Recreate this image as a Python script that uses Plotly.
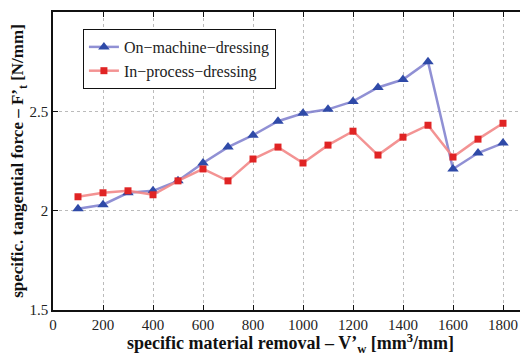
import plotly.graph_objects as go

x_vals = [100, 200, 300, 400, 500, 600, 700, 800, 900, 1000, 1100, 1200, 1300, 1400, 1500, 1600, 1700, 1800]
on_machine = [2.01, 2.03, 2.09, 2.10, 2.15, 2.24, 2.32, 2.38, 2.45, 2.49, 2.51, 2.55, 2.62, 2.66, 2.75, 2.21, 2.29, 2.34]
in_process = [2.07, 2.09, 2.10, 2.08, 2.15, 2.21, 2.15, 2.26, 2.32, 2.24, 2.33, 2.40, 2.28, 2.37, 2.43, 2.27, 2.36, 2.44]
x_ticks = [0, 200, 400, 600, 800, 1000, 1200, 1400, 1600, 1800]
y_ticks = [1.5, 2, 2.5, 3]

serif = "Liberation Serif"

fig = go.Figure()
fig.add_trace(go.Scatter(
    x=x_vals, y=on_machine, mode="lines+markers", name="On\u2212machine\u2212dressing",
    line=dict(color="rgba(125,125,205,0.85)", width=2.5),
    marker=dict(symbol="triangle-up", size=10, color="#2f4aa8"),
))
fig.add_trace(go.Scatter(
    x=x_vals, y=in_process, mode="lines+markers", name="In\u2212process\u2212dressing",
    line=dict(color="rgba(242,135,135,0.9)", width=2.5),
    marker=dict(symbol="square", size=7, color="#e02424"),
))

fig.update_layout(
    width=520, height=348,
    margin=dict(l=45, r=0, t=4, b=46),
    paper_bgcolor="white", plot_bgcolor="white",
    font=dict(family=serif, size=14, color="#222"),
    showlegend=True,
    legend=dict(
        x=0.063, y=0.943, xanchor="left", yanchor="top",
        bordercolor="#111", borderwidth=1, bgcolor="white",
        font=dict(family=serif, size=16, color="#222"),
        tracegroupgap=0, itemwidth=30,
    ),
    xaxis=dict(
        range=[0, 1900], tickvals=x_ticks, ticktext=[str(v) for v in x_ticks],
        showline=True, linecolor="#111", linewidth=1.5, mirror="ticks",
        ticks="inside", ticklen=5, tickcolor="#111",
        showgrid=True, gridcolor="#bbbbbb", griddash="dot", gridwidth=1,
        zeroline=False,
        tickfont=dict(family=serif, size=15, color="#222"),
        title=dict(text="<b>specific material removal \u2013 V\u2019<sub>w</sub> [mm<sup>3</sup>/mm]</b>",
                   font=dict(family=serif, size=18, color="#111"), standoff=5),
    ),
    yaxis=dict(
        range=[1.5, 3], tickvals=y_ticks, ticktext=["1.5", "2", "2.5", "3"],
        showline=True, linecolor="#111", linewidth=1.5, mirror=False,
        ticks="inside", ticklen=5, tickcolor="#111",
        showgrid=True, gridcolor="#bbbbbb", griddash="dot", gridwidth=1,
        zeroline=False,
        tickfont=dict(family=serif, size=15, color="#222"),
        title=dict(text="<b>specific. tangential force \u2013 F\u2019<sub>t</sub> [N/mm]</b>",
                   font=dict(family=serif, size=17, color="#111"), standoff=0),
    ),
)

fig.write_html("out.html")
